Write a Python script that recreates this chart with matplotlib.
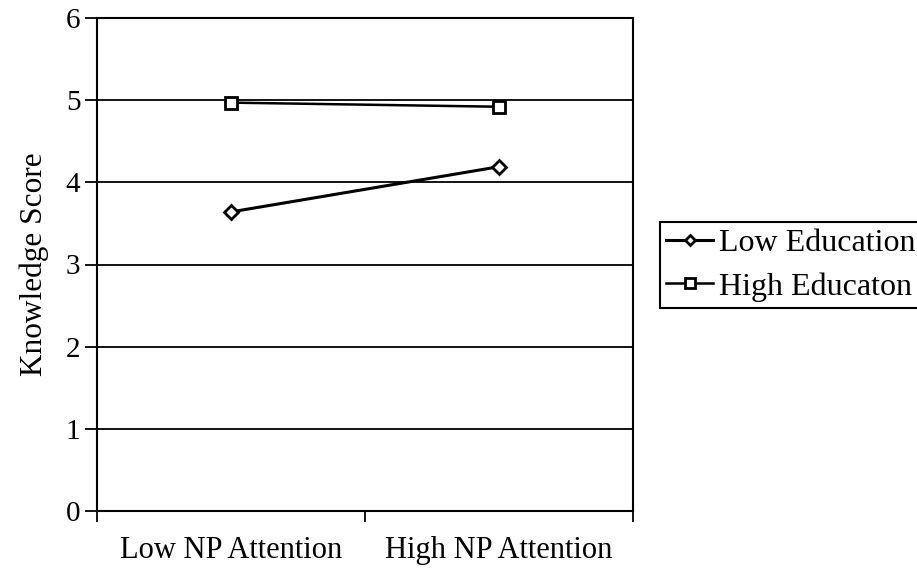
#!/usr/bin/env python3

"""Knowledge score by newspaper attention and education level."""

import matplotlib
matplotlib.use('Agg')
import matplotlib.pyplot as plt
from matplotlib.ticker import FixedLocator, NullFormatter, FixedFormatter

CATEGORIES = ['Low NP Attention', 'High NP Attention']
LOW_EDUCATION = [3.64, 4.19]
HIGH_EDUCATION = [4.97, 4.92]
SERIES_LABELS = ['Low Education', 'High Educaton']
Y_TICKS = [0, 1, 2, 3, 4, 5, 6]


def main():
  """Draw the interaction plot and save it."""
  plt.rcParams['font.family'] = ['Liberation Serif', 'DejaVu Serif']
  plt.rc('font', size=22)

  fig = plt.figure(figsize=(9.17, 5.81), dpi=100)
  ax1 = fig.add_axes([97 / 917, 70 / 581, 536 / 917, 493 / 581])

  x_pos = [i + 0.5 for i in range(len(CATEGORIES))]

  # horizontal grid lines at every integer score
  for y_val in Y_TICKS[1:-1]:
    ax1.axhline(y=y_val, color='k', linewidth=1.3, zorder=1)

  ax1.plot(x_pos, LOW_EDUCATION, color='k', linewidth=2.2,
           marker='D', markersize=7, markerfacecolor='white',
           markeredgecolor='k', markeredgewidth=2,
           label=SERIES_LABELS[0], zorder=3)
  ax1.plot(x_pos, HIGH_EDUCATION, color='k', linewidth=1.8,
           marker='s', markersize=8.5, markerfacecolor='white',
           markeredgecolor='k', markeredgewidth=2,
           label=SERIES_LABELS[1], zorder=3)

  ax1.set_xlim(0, len(CATEGORIES))
  ax1.set_ylim(Y_TICKS[0], Y_TICKS[-1])

  # category boundaries carry the tick marks, labels sit between them
  ax1.xaxis.set_major_locator(FixedLocator(list(range(len(CATEGORIES) + 1))))
  ax1.xaxis.set_major_formatter(NullFormatter())
  ax1.xaxis.set_minor_locator(FixedLocator(x_pos))
  ax1.xaxis.set_minor_formatter(FixedFormatter(CATEGORIES))
  ax1.tick_params(axis='x', which='major', direction='out', length=8,
                  width=1.3, color='k')
  ax1.tick_params(axis='x', which='minor', length=0, pad=18, labelsize=22)

  ax1.set_yticks(Y_TICKS)
  ax1.tick_params(axis='y', direction='out', length=9, width=1.3,
                  pad=3, labelsize=21)

  for spine in ax1.spines.values():
    spine.set_linewidth(1.5)
    spine.set_color('k')

  ax1.set_ylabel('Knowledge Score', fontsize=22.5, labelpad=12)

  # legend box runs off the right edge of the figure
  leg = fig.legend(loc='upper left', bbox_to_anchor=(660 / 917, 1 - 222 / 581),
                   frameon=True, fancybox=False, framealpha=1,
                   edgecolor='k', fontsize=23, handlelength=1.45,
                   handletextpad=0.2, borderpad=0.2, labelspacing=0.45,
                   borderaxespad=0, markerscale=0.8)
  leg.get_frame().set_linewidth(1.5)

  fig.savefig('out.png', dpi=100)


if __name__ == "__main__":
  main()
